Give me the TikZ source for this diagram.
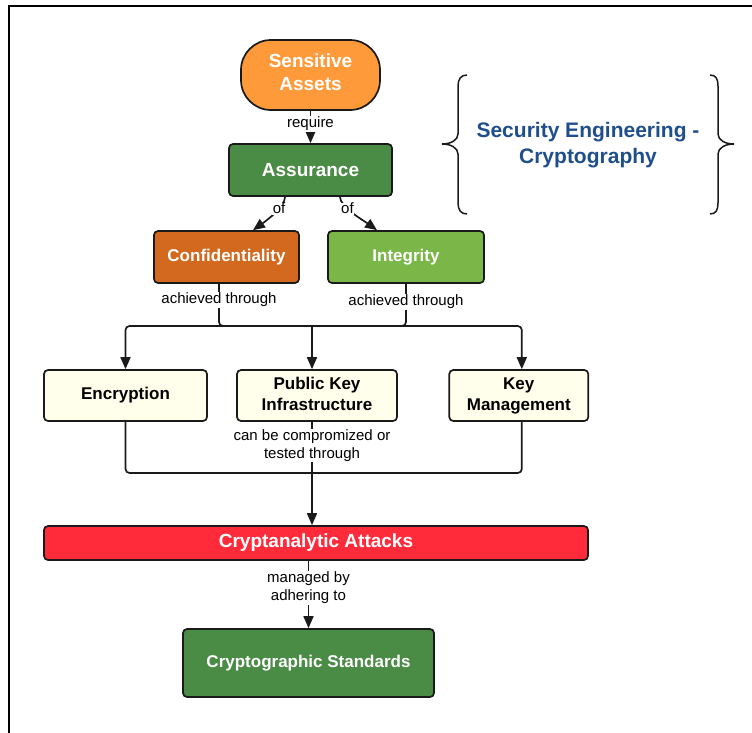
\documentclass[tikz,border=0pt]{standalone}
\usepackage{fontspec}
\setmainfont{Liberation Sans}
\usetikzlibrary{arrows.meta,calc}

\definecolor{assetorange}{HTML}{FF9A3A}
\definecolor{deepgreen}{HTML}{4A8B45}
\definecolor{rust}{HTML}{D2691F}
\definecolor{leafgreen}{HTML}{7AB648}
\definecolor{cream}{HTML}{FFFFEB}
\definecolor{alertred}{HTML}{FF2B3A}
\definecolor{titleblue}{HTML}{1F4E8C}
\definecolor{edgec}{HTML}{1A1A1A}

\begin{document}
\begin{tikzpicture}[x=1pt,y=-1pt,
  box/.style={draw=edgec, line width=1.7pt, rounded corners=4pt, align=center,
    inner sep=0pt, font=\bfseries\fontsize{17}{21}\selectfont},
  bigtext/.style={font=\bfseries\fontsize{19}{23}\selectfont},
  conn/.style={line width=1.7pt, draw=edgec},
  arr/.style={conn, -{Triangle[length=12pt,width=10pt]}},
  lbl/.style={fill=white, inner sep=1pt, align=center,
    font=\fontsize{15}{17.5}\selectfont},
]
\useasboundingbox (0,0) rectangle (752,732);

% outer frame (top and left edges)
\draw[line width=2.5pt, black] (760,6) -- (9,6) -- (9,740);

% nodes
\node[box, fill=assetorange, rounded corners=30pt,
  minimum width=139pt, minimum height=70pt] (assets) at (310.5,75) {};
\node[bigtext, text=white, align=center, inner sep=0pt] (assetslbl) at (310.5,72) {Sensitive\\Assets};
\node[box, bigtext, fill=deepgreen, text=white,
  minimum width=163pt, minimum height=52pt] (assur) at (310.5,170) {Assurance};
\node[box, fill=rust, text=white,
  minimum width=145pt, minimum height=52pt] (conf) at (226.5,257) {Confidentiality};
\node[box, fill=leafgreen, text=white,
  minimum width=156pt, minimum height=52pt] (integ) at (406,257) {Integrity};
\node[box, fill=cream, text=black,
  minimum width=163pt, minimum height=51pt] (encr) at (125.5,395.5) {Encryption};
\node[box, fill=cream, text=black,
  minimum width=160pt, minimum height=51pt] (pki) at (317,395.5) {};
\node[align=center, inner sep=0pt, font=\bfseries\fontsize{17}{21}\selectfont]
  (pkilbl) at (317,393.5) {Public Key\\Infrastructure};
\node[box, fill=cream, text=black,
  minimum width=139pt, minimum height=51pt] (keym) at (518.8,395.5) {Key\\Management};
\node[box, bigtext, fill=alertred, text=white,
  minimum width=544pt, minimum height=34pt] (crypt) at (316,543) {Cryptanalytic Attacks};
\node[box, fill=deepgreen, text=white,
  minimum width=251pt, minimum height=68pt] (stds) at (308.5,663) {Cryptographic Standards};

% title between braces
\node[align=center, text=titleblue, font=\bfseries\fontsize{21}{26}\selectfont]
  (title) at (588,145) {Security Engineering -\\Cryptography};

% braces
\draw[line width=1.5pt, edgec]
  (467,75) .. controls (461,75) and (458,79) .. (458,86) -- (458,134)
  .. controls (458,140) and (451,144) .. (442,144)
  .. controls (451,144) and (458,148) .. (458,154) -- (458,203)
  .. controls (458,210) and (461,214) .. (467,214);
\draw[line width=1.5pt, edgec]
  (710,75) .. controls (716,75) and (718,79) .. (718,86) -- (718,134)
  .. controls (718,140) and (725,144) .. (734,144)
  .. controls (725,144) and (718,148) .. (718,154) -- (718,203)
  .. controls (718,210) and (716,214) .. (710,214);

% junction points
\coordinate (hubA) at (312,326);
\coordinate (hubB) at (312,473);

% connectors
\draw[arr] (assets) -- (assur) node[lbl, pos=0.4] {require};

\draw[arr] ($(assur.south)+(-25.5,0)$) .. controls +(0,10) and +(14,-10) ..
  ($(conf.north)+(26.5,0)$) node[lbl, pos=0.36, inner sep=0.5pt] {of};
\draw[arr] ($(assur.south)+(29.5,0)$) .. controls +(0,10) and +(-14,-10) ..
  ($(integ.north)+(-29,0)$) node[lbl, pos=0.36, inner sep=0.5pt] {of};

\draw[conn, rounded corners=4pt] ($(conf.south)+(-7.5,0)$) |- (hubA);
\node[lbl] (achA) at ($(conf.south)+(-7.5,16)$) {achieved through};
\draw[conn, rounded corners=4pt] (integ.south) |- (hubA);
\node[lbl] (achB) at ($(integ.south)+(0,18)$) {achieved through};

\draw[arr, rounded corners=4pt] (hubA) -| (encr.north);
\draw[arr] (hubA) -- (hubA |- pki.north);
\draw[arr, rounded corners=4pt] (hubA) -| ($(keym.north)+(3,0)$);

\draw[conn, rounded corners=4pt] (encr.south) |- (hubB);
\draw[conn, rounded corners=4pt] ($(keym.south)+(3,0)$) |- (hubB);
\draw[conn] (hubB |- pki.south) -- (hubB)
  node[lbl, pos=0.46] {can be compromized or\\tested through};
\draw[arr] (hubB) -- (hubB |- crypt.north);

\draw[arr] (crypt.south -| stds.north) -- (stds.north)
  node[lbl, pos=0.4] {managed by\\adhering to};
\end{tikzpicture}
\end{document}
